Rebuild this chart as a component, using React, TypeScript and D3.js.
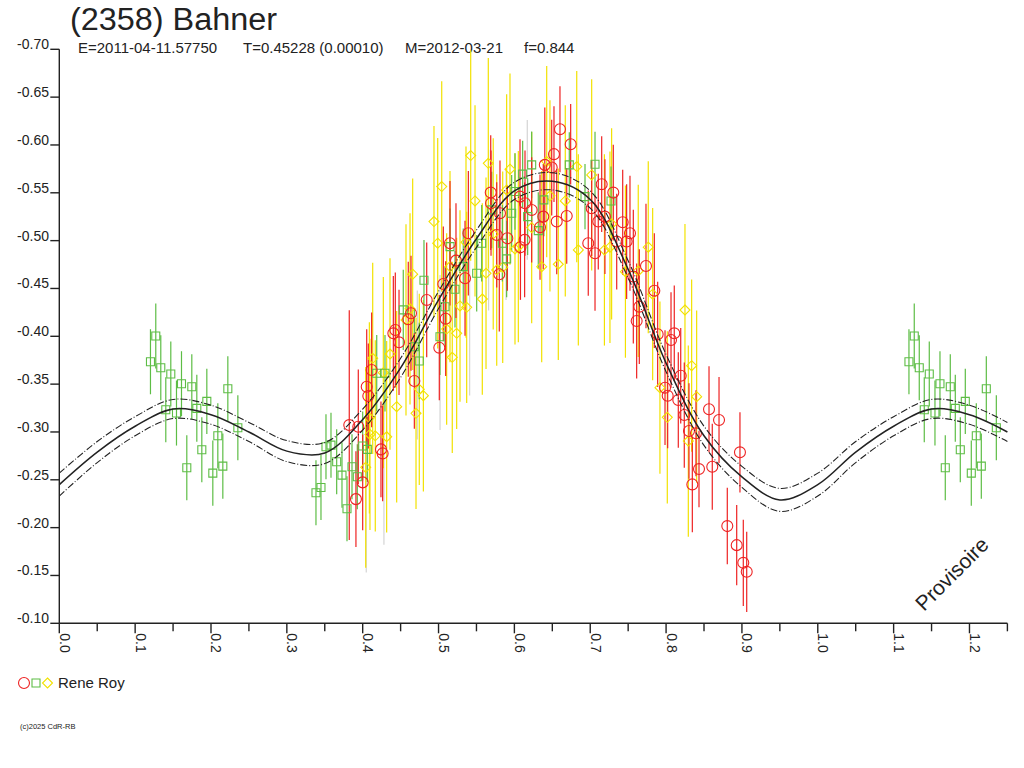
import React, { useEffect, useRef } from 'react';
import * as d3 from 'd3';

// fitted lightcurve, phase 0..1
const fitPhase = [0, 0.05, 0.1, 0.15, 0.2, 0.25, 0.3, 0.35, 0.4, 0.45, 0.5, 0.55, 0.6, 0.65, 0.7, 0.75, 0.8, 0.85, 0.9, 0.95, 1.0];
const fitMag = [-0.245, -0.279, -0.306, -0.324, -0.318, -0.3, -0.28, -0.278, -0.313, -0.367, -0.438, -0.502, -0.552, -0.562, -0.543, -0.47, -0.372, -0.296, -0.253, -0.229, -0.245];
const fitSigma = [0.012, 0.011, 0.01, 0.01, 0.01, 0.01, 0.011, 0.011, 0.011, 0.01, 0.009, 0.009, 0.009, 0.009, 0.009, 0.009, 0.009, 0.01, 0.011, 0.012, 0.012];

// Rene Roy - session 1 (red circles)
const redPhase = [0.3823, 0.3911, 0.4, 0.3942, 0.4053, 0.4074, 0.4118, 0.4241, 0.4263, 0.4404, 0.443, 0.4479, 0.4601, 0.4637, 0.4681, 0.4844, 0.501, 0.5063, 0.5094, 0.5151, 0.523, 0.5349, 0.5393, 0.5688, 0.5692, 0.5767, 0.5801, 0.581, 0.5907, 0.6074, 0.608, 0.614, 0.6135, 0.6228, 0.6338, 0.6381, 0.6401, 0.6492, 0.6522, 0.6558, 0.6601, 0.669, 0.6742, 0.6974, 0.7019, 0.7063, 0.7106, 0.7151, 0.7194, 0.7304, 0.7349, 0.7428, 0.748, 0.7524, 0.7568, 0.7612, 0.7647, 0.7735, 0.7845, 0.7889, 0.7986, 0.8021, 0.8065, 0.8108, 0.8161, 0.8193, 0.824, 0.8302, 0.8346, 0.8394, 0.8434, 0.8566, 0.8609, 0.8698, 0.8807, 0.8931, 0.8974, 0.9018, 0.9063];
const redMag = [-0.3072, -0.2298, -0.2473, -0.3054, -0.3473, -0.3376, -0.3648, -0.2818, -0.2776, -0.4031, -0.4066, -0.3937, -0.4178, -0.4241, -0.3533, -0.438, -0.3881, -0.4547, -0.4184, -0.4973, -0.4791, -0.4607, -0.5077, -0.5502, -0.5391, -0.5059, -0.4649, -0.5287, -0.5025, -0.546, -0.4931, -0.5391, -0.5008, -0.5321, -0.514, -0.5251, -0.5792, -0.5764, -0.5904, -0.5199, -0.6165, -0.5258, -0.6008, -0.4973, -0.5339, -0.4868, -0.5199, -0.559, -0.5251, -0.5502, -0.499, -0.5192, -0.499, -0.5077, -0.4624, -0.416, -0.431, -0.4735, -0.4477, -0.4021, -0.3463, -0.3379, -0.3961, -0.4031, -0.3334, -0.3588, -0.3177, -0.301, -0.2452, -0.2986, -0.2612, -0.3237, -0.2636, -0.3125, -0.2016, -0.1817, -0.2787, -0.1632, -0.1538];
const redErr = [0.12, 0.05, 0.05, 0.06, 0.06, 0.055, 0.06, 0.05, 0.05, 0.06, 0.06, 0.055, 0.06, 0.06, 0.05, 0.06, 0.055, 0.06, 0.06, 0.065, 0.06, 0.06, 0.065, 0.06, 0.055, 0.055, 0.06, 0.055, 0.055, 0.06, 0.055, 0.055, 0.06, 0.055, 0.055, 0.055, 0.06, 0.05, 0.05, 0.055, 0.045, 0.05, 0.042, 0.055, 0.05, 0.06, 0.05, 0.05, 0.06, 0.05, 0.05, 0.055, 0.06, 0.06, 0.07, 0.06, 0.06, 0.065, 0.06, 0.055, 0.06, 0.055, 0.05, 0.05, 0.05, 0.05, 0.055, 0.05, 0.05, 0.045, 0.04, 0.045, 0.045, 0.045, 0.04, 0.042, 0.042, 0.045, 0.042];

// Rene Roy - session 2 (green squares)
const greenPhase = [0.1202, 0.1272, 0.1338, 0.1404, 0.147, 0.1545, 0.1611, 0.1681, 0.1747, 0.1813, 0.1879, 0.1945, 0.2024, 0.209, 0.2156, 0.2222, 0.2354, 0.3384, 0.345, 0.3516, 0.3582, 0.3657, 0.3727, 0.3793, 0.3859, 0.3929, 0.4, 0.4061, 0.4185, 0.4294, 0.4535, 0.4681, 0.4746, 0.4808, 0.5019, 0.5085, 0.5151, 0.5217, 0.5326, 0.5503, 0.5569, 0.5701, 0.5841, 0.5898, 0.5964, 0.6008, 0.6109, 0.6175, 0.6228, 0.6315, 0.6389, 0.6724, 0.6931, 0.7063, 0.7274];
const greenMag = [-0.3734, -0.4003, -0.3672, -0.3232, -0.3606, -0.3198, -0.3504, -0.2626, -0.3473, -0.3247, -0.2814, -0.332, -0.257, -0.296, -0.2643, -0.3452, -0.3044, -0.2364, -0.242, -0.2845, -0.2862, -0.2688, -0.2549, -0.2197, -0.2636, -0.2532, -0.2853, -0.2818, -0.3614, -0.3614, -0.4276, -0.3891, -0.3742, -0.4586, -0.3996, -0.4309, -0.4937, -0.4492, -0.4728, -0.4659, -0.4973, -0.5321, -0.4973, -0.4809, -0.5287, -0.5513, -0.5695, -0.5251, -0.5792, -0.5105, -0.5426, -0.5792, -0.546, -0.5799, -0.5415];
const greenErr = [0.034, 0.034, 0.034, 0.034, 0.034, 0.034, 0.034, 0.034, 0.034, 0.035, 0.034, 0.034, 0.034, 0.034, 0.034, 0.034, 0.034, 0.034, 0.034, 0.034, 0.034, 0.034, 0.034, 0.034, 0.034, 0.034, 0.036, 0.034, 0.04, 0.04, 0.042, 0.04, 0.04, 0.042, 0.04, 0.042, 0.04, 0.04, 0.04, 0.04, 0.04, 0.04, 0.04, 0.04, 0.04, 0.04, 0.035, 0.04, 0.035, 0.04, 0.038, 0.034, 0.034, 0.034, 0.036];

// Rene Roy - session 3 (yellow diamonds)
const yellowPhase = [0.404, 0.4088, 0.4096, 0.4132, 0.4166, 0.4272, 0.4316, 0.436, 0.4448, 0.4571, 0.4624, 0.4659, 0.4703, 0.4746, 0.48, 0.494, 0.4989, 0.5042, 0.5107, 0.5151, 0.5181, 0.5239, 0.5283, 0.5362, 0.5371, 0.5424, 0.5481, 0.5577, 0.5626, 0.5656, 0.5721, 0.5767, 0.5846, 0.5898, 0.5942, 0.6008, 0.6052, 0.6228, 0.636, 0.6426, 0.6469, 0.6579, 0.6671, 0.6822, 0.6843, 0.7019, 0.7187, 0.726, 0.7282, 0.7464, 0.7633, 0.7765, 0.7823, 0.7919, 0.8016, 0.8249, 0.8293, 0.8337, 0.8403];
const yellowMag = [-0.263, -0.3148, -0.2974, -0.377, -0.296, -0.362, -0.295, -0.3815, -0.3264, -0.4171, -0.4287, -0.4649, -0.3195, -0.3446, -0.3379, -0.5199, -0.4973, -0.5565, -0.4076, -0.4729, -0.378, -0.4031, -0.4317, -0.4984, -0.4303, -0.5889, -0.5415, -0.439, -0.4659, -0.5808, -0.507, -0.4693, -0.4722, -0.553, -0.5747, -0.4913, -0.4937, -0.5136, -0.4728, -0.5826, -0.5468, -0.4753, -0.5415, -0.5774, -0.4903, -0.5687, -0.4903, -0.4931, -0.5175, -0.4676, -0.4683, -0.4931, -0.444, -0.3463, -0.3153, -0.4275, -0.2905, -0.3693, -0.3369];
const yellowErr = [0.105, 0.1, 0.1, 0.1, 0.1, 0.1, 0.1, 0.1, 0.1, 0.1, 0.1, 0.1, 0.1, 0.1, 0.1, 0.1, 0.11, 0.11, 0.1, 0.1, 0.1, 0.1, 0.1, 0.1, 0.1, 0.11, 0.1, 0.1, 0.1, 0.11, 0.1, 0.1, 0.1, 0.1, 0.1, 0.1, 0.1, 0.1, 0.1, 0.1, 0.1, 0.1, 0.1, 0.1, 0.1, 0.1, 0.1, 0.1, 0.1, 0.09, 0.09, 0.09, 0.09, 0.09, 0.09, 0.09, 0.1, 0.09, 0.09];

// rejected measurements (light grey bars, no marker)
const greyPhase = [0.4047, 0.428, 0.472, 0.502, 0.541, 0.566, 0.589, 0.617];
const greyMag = [-0.233, -0.26, -0.37, -0.383, -0.414, -0.511, -0.506, -0.553];
const greyErr = [0.08, 0.078, 0.078, 0.081, 0.076, 0.084, 0.068, 0.073];

const yTicks = [-0.7, -0.65, -0.6, -0.55, -0.5, -0.45, -0.4, -0.35, -0.3, -0.25, -0.2, -0.15, -0.1];
const xTicks = [0, 0.1, 0.2, 0.3, 0.4, 0.5, 0.6, 0.7, 0.8, 0.9, 1.0, 1.1, 1.2];
const xMinorTicks = [0.05, 0.15, 0.25, 0.35, 0.45, 0.55, 0.65, 0.75, 0.85, 0.95, 1.05, 1.15, 1.25];

const subtitle = ['E=2011-04-11.57750', 'T=0.45228 (0.00010)', 'M=2012-03-21', 'f=0.844'];
const subtitleX = [78, 243, 405, 524];

const RED = '#ee2222';
const GREEN = '#5dbd45';
const YELLOW = '#f2e200';
const GREY = '#d4d4d4';
const INK = '#222';
const FONT = '"Liberation Sans", Arial, sans-serif';

type Pt = { p: number; m: number; e: number };

const zipPts = (ph: number[], mg: number[], er: number[]): Pt[] => {
  const pts = ph.map((p, i) => ({ p, m: mg[i], e: er[i] }));
  // phases below 0.25 are repeated one cycle later
  return pts.concat(pts.filter(d => d.p <= 0.25).map(d => ({ ...d, p: d.p + 1 })));
};

const App: React.FC = () => {
  const svgRef = useRef<SVGSVGElement>(null);

  useEffect(() => {
    if (!svgRef.current) return;
    const svg = d3.select(svgRef.current);
    svg.selectAll('*').remove();

    const x = d3.scaleLinear().domain([0, 1.25]).range([59.3, 1007.4]);
    const y = d3.scaleLinear().domain([-0.7, -0.1]).range([49.3, 623.3]);

    // title block
    svg.append('text').attr('x', 70).attr('y', 30).attr('font-size', 31).attr('font-family', FONT).attr('fill', INK)
      .attr('textLength', 207).attr('lengthAdjust', 'spacingAndGlyphs').text('(2358) Bahner');
    svg.selectAll('text.sub').data(subtitle).enter().append('text')
      .attr('class', 'sub').attr('x', (_, i) => subtitleX[i]).attr('y', 53)
      .attr('font-size', 15).attr('font-family', FONT).attr('fill', INK).text(d => d);

    // axes
    const ax = svg.append('g').attr('stroke', INK).attr('stroke-width', 1.4);
    ax.append('line').attr('x1', x(0)).attr('x2', x(0)).attr('y1', y(-0.7)).attr('y2', y(-0.1));
    ax.append('line').attr('x1', x(0)).attr('x2', x(1.25)).attr('y1', y(-0.1)).attr('y2', y(-0.1));
    ax.selectAll('line.yt').data(yTicks).enter().append('line').attr('class', 'yt')
      .attr('x1', x(0) - 9).attr('x2', x(0)).attr('y1', d => y(d)).attr('y2', d => y(d));
    ax.selectAll('line.xt').data(xTicks).enter().append('line').attr('class', 'xt')
      .attr('x1', d => x(d)).attr('x2', d => x(d)).attr('y1', y(-0.1)).attr('y2', y(-0.1) + 10);
    ax.selectAll('line.xm').data(xMinorTicks).enter().append('line').attr('class', 'xm')
      .attr('x1', d => x(d)).attr('x2', d => x(d)).attr('y1', y(-0.1)).attr('y2', y(-0.1) + 8);

    svg.selectAll('text.yl').data(yTicks).enter().append('text').attr('class', 'yl')
      .attr('x', 49).attr('y', d => y(d)).attr('text-anchor', 'end')
      .attr('font-size', 14).attr('font-family', FONT).attr('fill', INK)
      .text(d => d.toFixed(2));
    svg.selectAll('text.xl').data(xTicks).enter().append('text').attr('class', 'xl')
      .attr('transform', d => `translate(${x(d) + 0.5},${y(-0.1) + 10}) rotate(90)`)
      .attr('font-size', 14).attr('font-family', FONT).attr('fill', INK)
      .text(d => d.toFixed(1));

    // error bars + markers
    const plot = svg.append('g');
    const series = [
      { pts: zipPts(greyPhase, greyMag, greyErr), color: GREY, shape: 'none' },
      { pts: zipPts(yellowPhase, yellowMag, yellowErr), color: YELLOW, shape: 'diamond' },
      { pts: zipPts(greenPhase, greenMag, greenErr), color: GREEN, shape: 'square' },
      { pts: zipPts(redPhase, redMag, redErr), color: RED, shape: 'circle' },
    ];
    const clampY = (v: number) => Math.max(y(-0.7), Math.min(y(-0.1), v));
    series.forEach(s => {
      plot.append('g').selectAll('line').data(s.pts).enter().append('line')
        .attr('x1', d => x(d.p)).attr('x2', d => x(d.p))
        .attr('y1', d => clampY(y(d.m - d.e))).attr('y2', d => clampY(y(d.m + d.e)))
        .attr('stroke', s.color).attr('stroke-width', 1.2);
    });
    const symbol = (shape: string) => {
      if (shape === 'circle') return d3.symbol().type(d3.symbolCircle).size(Math.PI * 30)();
      if (shape === 'square') return d3.symbol().type(d3.symbolSquare).size(64)();
      return 'M0,-5L5,0L0,5L-5,0Z';
    };
    series.filter(s => s.shape !== 'none').forEach(s => {
      plot.append('g').selectAll('path').data(s.pts).enter().append('path')
        .attr('d', symbol(s.shape) as string)
        .attr('transform', d => `translate(${x(d.p)},${y(d.m)})`)
        .attr('fill', 'none').attr('stroke', s.color).attr('stroke-width', 1.1);
    });

    // fit and its uncertainty band
    const fitPts = fitPhase.map((p, i) => ({ p, m: fitMag[i], s: fitSigma[i] }));
    const ext = fitPts.concat(fitPts.filter(d => d.p > 0 && d.p <= 0.25).map(d => ({ ...d, p: d.p + 1 })));
    const line = (f: (d: { m: number; s: number }) => number) =>
      d3.line<{ p: number; m: number; s: number }>().x(d => x(d.p)).y(d => y(f(d))).curve(d3.curveCatmullRom);
    const fg = svg.append('g').attr('fill', 'none').attr('stroke', INK);
    fg.append('path').attr('d', line(d => d.m)(ext) as string).attr('stroke-width', 1.5);
    fg.append('path').attr('d', line(d => d.m - d.s)(ext) as string).attr('stroke-width', 1.1).attr('stroke-dasharray', '7,2,1,2');
    fg.append('path').attr('d', line(d => d.m + d.s)(ext) as string).attr('stroke-width', 1.1).attr('stroke-dasharray', '7,2,1,2');

    // watermark
    svg.append('text').attr('transform', 'translate(924,612) rotate(-45)')
      .attr('font-size', 21).attr('font-family', FONT).attr('fill', INK).text('Provisoire');

    // legend
    const lg = svg.append('g').attr('fill', 'none').attr('stroke-width', 1.1);
    lg.append('path').attr('d', symbol('circle') as string).attr('transform', 'translate(24,683)').attr('stroke', RED);
    lg.append('path').attr('d', symbol('square') as string).attr('transform', 'translate(36,683)').attr('stroke', GREEN);
    lg.append('path').attr('d', symbol('diamond') as string).attr('transform', 'translate(47.5,683)').attr('stroke', YELLOW);
    svg.append('text').attr('x', 58).attr('y', 688).attr('font-size', 15).attr('font-family', FONT).attr('fill', INK).text('Rene Roy');

    svg.append('text').attr('x', 20).attr('y', 729).attr('font-size', 7.5).attr('font-family', FONT).attr('fill', INK).text('(c)2025 CdR-RB');
  }, []);

  return (
    <svg ref={svgRef} width={1024} height={768}
      style={{ position: 'absolute', left: 0, top: 0, background: '#fff' }} />
  );
};

export default App;
